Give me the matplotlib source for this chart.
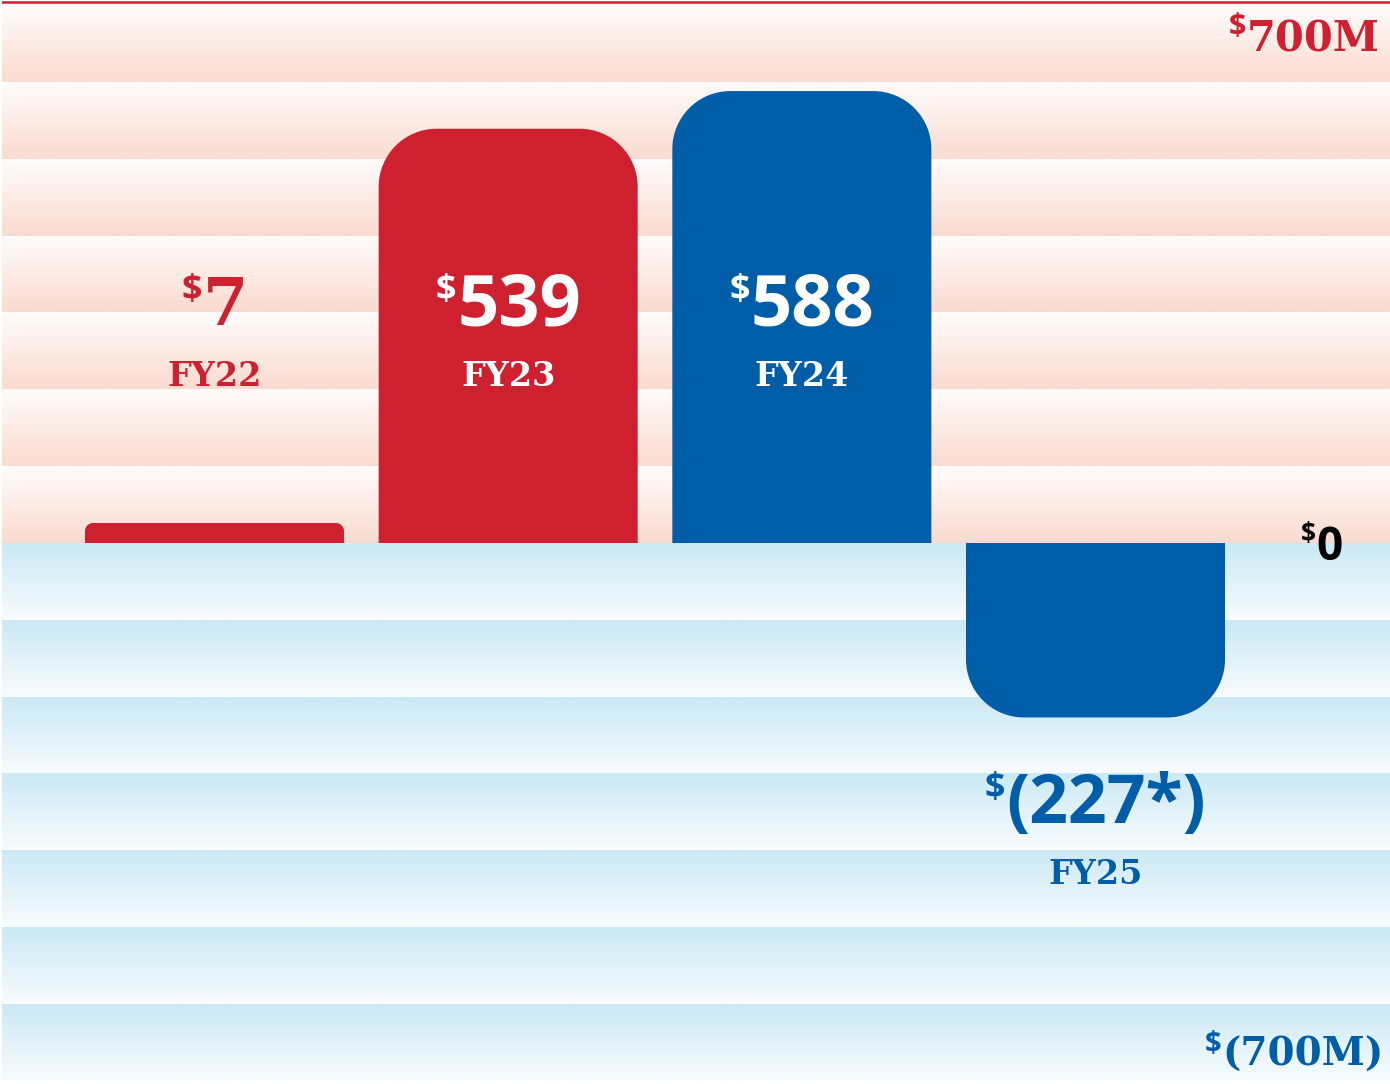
import matplotlib
matplotlib.use('Agg')
import matplotlib.pyplot as plt
import numpy as np
from matplotlib.path import Path
from matplotlib.patches import PathPatch
from matplotlib.transforms import offset_copy, blended_transform_factory

# ---------------- data ----------------
years = ['FY22', 'FY23', 'FY24', 'FY25']
values = [7, 539, 588, -227]
value_labels = ['7', '539', '588', '(227*)']
top_label = '700M'
zero_label = '0'
bottom_label = '(700M)'
band_edges_top = [0, 100, 200, 300, 400, 500, 600, 700]
band_edges_bottom = [0, -100, -200, -300, -400, -500, -600, -700]

# ---------------- style ----------------
RED = '#CF2030'
BLUE = '#005DA8'
PINK = np.array([250, 219, 208]) / 255
PINK_TOP = np.array([255, 252, 251]) / 255
LBLUE = np.array([203, 233, 245]) / 255
LBLUE_BOT = np.array([248, 252, 254]) / 255
bar_colors = [RED, RED, BLUE, BLUE]
label_colors = [RED, 'white', 'white', BLUE]
SANS = 'Open Sans'
SLAB = 'DejaVu Serif'

W, H = 1390, 1084
fig = plt.figure(figsize=(W / 100, H / 100), dpi=100)
ax = fig.add_axes([2 / W, 0, (W - 2) / W, 1])
XL = (-0.7236, 4.0028)
YL = (-703.9, 706.5)
ax.set_xlim(*XL)
ax.set_ylim(*YL)
ax.axis('off')
px_x = (W - 2) / (XL[1] - XL[0])
px_y = H / (YL[1] - YL[0])

# gradient bands
def band(lo, hi, c_lo, c_hi):
    n = 64
    t = np.linspace(0, 1, n)[:, None]
    img = (c_lo[None, :] * (1 - t) + c_hi[None, :] * t)[:, None, :]
    ax.imshow(img, extent=[XL[0], XL[1], lo, hi], origin='lower',
              aspect='auto', interpolation='bilinear', zorder=0)

for lo, hi in zip(band_edges_top[:-1], band_edges_top[1:]):
    band(lo, hi, PINK, PINK_TOP)
for hi, lo in zip(band_edges_bottom[:-1], band_edges_bottom[1:]):
    band(lo, hi, LBLUE_BOT, LBLUE)

ax.axhline(703.6, color='#D0283A', lw=1.9, zorder=3)

# rounded bars
bar_w = 0.882
min_h = 26  # minimum visible height (data units)
def rounded_bar(xc, v, color):
    h = max(abs(v), min_h)
    s = 1 if v >= 0 else -1
    h_px = h * px_y
    r_px = min(58, h_px * 0.4)
    rx, ry = r_px / px_x, r_px / px_y
    k = 0.5523
    x0, x1 = xc - bar_w / 2, xc + bar_w / 2
    yt = s * h
    verts = [(x0, 0), (x0, yt - s * ry),
             (x0, yt - s * ry + s * k * ry), (x0 + rx - k * rx, yt), (x0 + rx, yt),
             (x1 - rx, yt),
             (x1 - rx + k * rx, yt), (x1, yt - s * ry + s * k * ry), (x1, yt - s * ry),
             (x1, 0), (x0, 0)]
    codes = [Path.MOVETO, Path.LINETO,
             Path.CURVE4, Path.CURVE4, Path.CURVE4,
             Path.LINETO,
             Path.CURVE4, Path.CURVE4, Path.CURVE4,
             Path.LINETO, Path.CLOSEPOLY]
    ax.add_patch(PathPatch(Path(verts, codes), facecolor=color, edgecolor='none', zorder=2))

xs = np.arange(len(values))
for x, v, c in zip(xs, values, bar_colors):
    rounded_bar(x, v, c)

fig.canvas.draw()
renderer = fig.canvas.get_renderer()

def money(x, y, num, color, nsize, nfont, dsize, raise_px, align='center', trans=None):
    trans = trans or ax.transData
    t = ax.text(x, y, num, color=color, fontsize=nsize, family=nfont, weight='bold',
                ha='left', va='baseline', transform=trans, zorder=5)
    d = ax.text(x, y, '$', color=color, fontsize=dsize, family=SANS, weight='bold',
                ha='left', va='baseline', transform=trans, zorder=5)
    wn = t.get_window_extent(renderer).width
    wd = d.get_window_extent(renderer).width
    gap = 1
    total = wd + gap + wn
    start = -total / 2 if align == 'center' else -total
    d.set_transform(offset_copy(trans, fig=fig, x=start, y=raise_px, units='dots'))
    t.set_transform(offset_copy(trans, fig=fig, x=start + wd + gap, y=0, units='dots'))

def yv(py):
    return (H - py) / px_y + YL[0]

# value labels and year labels
for i, (x, v) in enumerate(zip(xs, values)):
    col = label_colors[i]
    if v >= 0:
        vy, fy = yv(325), yv(386)
    else:
        vy, fy = yv(823), yv(884)
    nfont = SLAB if i == 0 else SANS
    nsize = 47 if i == 0 else (52 if v >= 0 else 49)
    money(x, vy, value_labels[i], col, nsize, nfont, 26, 25)
    ax.text(x, fy, years[i], color=col, fontsize=24, family=SLAB, weight='bold',
            ha='center', va='baseline', zorder=5)

bt = blended_transform_factory(ax.transAxes, ax.transData)
money((1380 - 2) / (W - 2), yv(52), top_label, RED, 30, SLAB, 22, 17, align='right', trans=bt)
money((1343 - 2) / (W - 2), yv(560), zero_label, 'black', 33, SANS, 19, 18, align='right', trans=bt)
money((1384 - 2) / (W - 2), yv(1066), bottom_label, BLUE, 28, SLAB, 21, 14, align='right', trans=bt)

fig.savefig('out.png', dpi=100)
